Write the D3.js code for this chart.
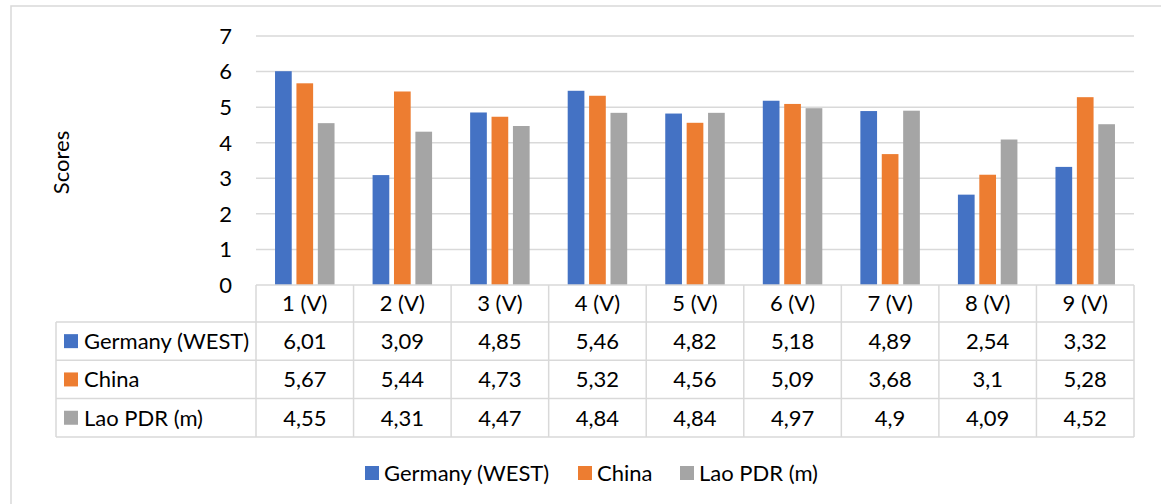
<!DOCTYPE html>
<html>
<head>
<meta charset="utf-8">
<script src="https://cdn.jsdelivr.net/npm/d3@7"></script>
<style>
  html, body { margin: 0; padding: 0; background: #fff; }
  svg { display: block; }
  text { font-family: Lato, "Noto Sans", sans-serif; fill: #000; }
</style>
</head>
<body>
<svg id="chart" width="1161" height="504"></svg>
<script>
// Categories and per-country scores
const categories = ["1 (V)", "2 (V)", "3 (V)", "4 (V)", "5 (V)", "6 (V)", "7 (V)", "8 (V)", "9 (V)"];
const seriesNames = ["Germany (WEST)", "China", "Lao PDR (m)"];
const germany = [6.01, 3.09, 4.85, 5.46, 4.82, 5.18, 4.89, 2.54, 3.32];
const china   = [5.67, 5.44, 4.73, 5.32, 4.56, 5.09, 3.68, 3.10, 5.28];
const lao     = [4.55, 4.31, 4.47, 4.84, 4.84, 4.97, 4.90, 4.09, 4.52];
const yTicks  = [0, 1, 2, 3, 4, 5, 6, 7];
const colors  = ["#4472C4", "#ED7D31", "#A5A5A5"];

const series = [germany, china, lao];
const fmt = v => String(v).replace(".", ",");

const svg = d3.select("#chart");
const gridColor = "#d9d9d9";
const fontSize = 22;

// Outer chart frame
svg.append("rect")
  .attr("x", 11).attr("y", 6).attr("width", 1170).attr("height", 520)
  .attr("fill", "none").attr("stroke", gridColor).attr("stroke-width", 1.5);

// Plot area
const plotL = 256, plotR = 1134, plotT = 36, plotB = 285;
const x = d3.scaleBand().domain(categories).range([plotL, plotR]).padding(0);
const y = d3.scaleLinear().domain([0, 7]).range([plotB, plotT]);

// Horizontal gridlines
svg.append("g").selectAll("line").data(yTicks.slice(1)).join("line")
  .attr("x1", plotL).attr("x2", plotR)
  .attr("y1", d => y(d)).attr("y2", d => y(d))
  .attr("stroke", gridColor).attr("stroke-width", 1.5);

// Y axis tick labels
svg.append("g").selectAll("text").data(yTicks).join("text")
  .attr("x", 232).attr("y", d => y(d))
  .attr("dy", "0.36em").attr("text-anchor", "end")
  .attr("font-size", fontSize).text(d => d);

// Axis title
svg.append("text")
  .attr("transform", `translate(69,${(plotT + plotB) / 2 + 2}) rotate(-90)`)
  .attr("text-anchor", "middle").attr("font-size", fontSize).text("Scores");

// Bars
const barW = 16.7, barGap = 4.7;
const groupW = 3 * barW + 2 * barGap;
series.forEach((vals, si) => {
  svg.append("g").selectAll("rect").data(vals).join("rect")
    .attr("x", (d, i) => x(categories[i]) + (x.bandwidth() - groupW) / 2 + si * (barW + barGap))
    .attr("y", d => y(d))
    .attr("width", barW)
    .attr("height", d => y(0) - y(d))
    .attr("fill", colors[si]);
});

// Data table under the plot
const tableL = 56;
const headerB = 322;
const rowH = 38.3;
const rowsTop = headerB;
const tableB = rowsTop + rowH * 3;
const tg = svg.append("g");
const lineStyle = sel => sel.attr("stroke", gridColor).attr("stroke-width", 1.5);

// Header row: category labels
tg.append("g").selectAll("text").data(categories).join("text")
  .attr("x", d => x(d) + x.bandwidth() / 2)
  .attr("y", (plotB + headerB) / 2).attr("dy", "0.36em")
  .attr("text-anchor", "middle").attr("font-size", fontSize).text(d => d);

// Horizontal table lines
[plotB, headerB, rowsTop + rowH, rowsTop + 2 * rowH, tableB].forEach((yy, i) => {
  tg.append("line")
    .attr("x1", i < 1 ? plotL : tableL).attr("x2", plotR)
    .attr("y1", yy).attr("y2", yy).call(lineStyle);
});
// Vertical table lines
x.domain().concat(["end"]).forEach((c, i) => {
  const xx = i < categories.length ? x(c) : plotR;
  tg.append("line").attr("x1", xx).attr("x2", xx)
    .attr("y1", plotB).attr("y2", tableB).call(lineStyle);
});
tg.append("line").attr("x1", tableL).attr("x2", tableL)
  .attr("y1", headerB).attr("y2", tableB).call(lineStyle);

// Row labels with legend keys, and values
series.forEach((vals, si) => {
  const cy = rowsTop + rowH * si + rowH / 2;
  tg.append("rect").attr("x", 64).attr("y", cy - 7).attr("width", 14).attr("height", 14)
    .attr("fill", colors[si]);
  tg.append("text").attr("x", 84).attr("y", cy).attr("dy", "0.36em")
    .attr("font-size", fontSize).text(seriesNames[si]);
  tg.append("g").selectAll("text").data(vals).join("text")
    .attr("x", (d, i) => x(categories[i]) + x.bandwidth() / 2)
    .attr("y", cy).attr("dy", "0.36em")
    .attr("text-anchor", "middle").attr("font-size", fontSize).text(d => fmt(d));
});

// Legend at the bottom
const legendX = [365, 578, 680];
const legendY = 473;
const lg = svg.append("g");
seriesNames.forEach((name, si) => {
  lg.append("rect").attr("x", legendX[si]).attr("y", legendY - 7)
    .attr("width", 14).attr("height", 14).attr("fill", colors[si]);
  lg.append("text").attr("x", legendX[si] + 19).attr("y", legendY).attr("dy", "0.36em")
    .attr("font-size", fontSize).text(name);
});
</script>
</body>
</html>
